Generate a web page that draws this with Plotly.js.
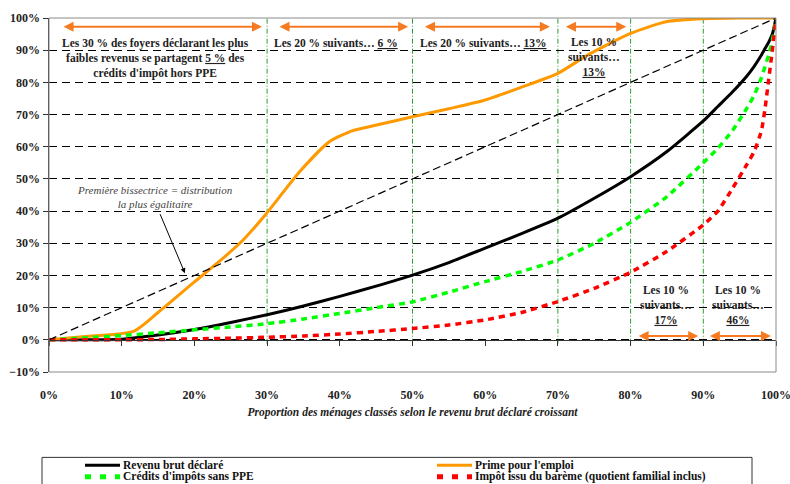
<!DOCTYPE html>
<html><head><meta charset="utf-8">
<script src="https://cdn.plot.ly/plotly-3.0.1.min.js"></script>
<style>html,body{margin:0;padding:0;background:#fff}</style>
</head><body>
<div id="chart" style="width:790px;height:484px"></div>
<script>
// Population share (x) common grid
const popShare = [0,0.05,0.1,0.15,0.2,0.25,0.3,0.35,0.4,0.45,0.5,0.55,0.6,0.65,0.7,0.75,0.8,0.85,0.9,0.92,0.94,0.96,0.97,0.98,0.985,0.99,0.995,1];
const revenuBrut = [0,0,0.002,0.015,0.032,0.054,0.078,0.105,0.135,0.167,0.201,0.24,0.285,0.33,0.378,0.44,0.507,0.585,0.68,0.725,0.77,0.82,0.85,0.885,0.905,0.925,0.95,1];
const creditsSansPPE = [0,0.006,0.013,0.022,0.031,0.04,0.05,0.065,0.082,0.1,0.118,0.148,0.181,0.212,0.248,0.30,0.365,0.445,0.55,0.595,0.65,0.72,0.76,0.815,0.85,0.885,0.93,1];
const impotBareme = [0,0,0,0.001,0.003,0.005,0.008,0.012,0.018,0.026,0.035,0.046,0.062,0.085,0.119,0.16,0.21,0.275,0.357,0.40,0.47,0.545,0.585,0.65,0.72,0.81,0.90,1];
// Prime pour l'emploi (own grid)
const ppeShare = [0,0.05,0.116,0.15,0.2,0.235,0.267,0.3,0.345,0.386,0.418,0.446,0.5,0.55,0.6,0.65,0.7,0.741,0.8,0.85,0.9,0.95,1];
const ppeCum   = [0,0.01,0.026,0.085,0.18,0.245,0.31,0.395,0.523,0.616,0.65,0.665,0.693,0.718,0.745,0.785,0.828,0.885,0.952,0.989,0.998,1,1];
// Equality line
const diagX = [0,1];
const diagY = [0,1];

const seriesNames = ["Revenu brut déclaré","Prime pour l'emploi","Crédits d'impôts sans PPE","Impôt issu du barème (quotient familial inclus)"];
const seriesColors = ['#000000','#FF9900','#00FF00','#FF0000'];

// Separators (decile boundaries)
const separators = [0.3,0.5,0.7,0.8,0.9];
const topArrows = [[0.018,0.293],[0.315,0.494],[0.515,0.689],[0.709,0.794]];
const topArrowY = 0.973;
const bottomArrows = [[0.809,0.893],[0.907,0.993]];
const bottomArrowY = 0.012;

const U = s => '<span style="text-decoration:underline">'+s+'</span>';
const labels = [
  {x:0.146, y:0.873, text:'Les 30 % des foyers déclarant les plus<br>faibles revenus se partagent '+U('5 %')+' des<br>crédits d\'impôt hors PPE'},
  {x:0.395, y:0.921, text:'Les 20 % suivants… '+U('6 %')},
  {x:0.598, y:0.921, text:'Les 20 % suivants… '+U('13%')},
  {x:0.75,  y:0.879, text:'Les 10 %<br>suivants…<br>'+U('13%')},
  {x:0.849, y:0.109, text:'Les 10 %<br>suivants…<br>'+U('17%')},
  {x:0.948, y:0.109, text:'Les 10 %<br>suivants…<br>'+U('46%')}
];

const FONT = "Liberation Serif";
const tickVals = [0,0.1,0.2,0.3,0.4,0.5,0.6,0.7,0.8,0.9,1];

const M = {l:49, r:14, t:18, b:111.5};
const W = 790, H = 484;
const pw = W - M.l - M.r, ph = H - M.t - M.b;
const px = v => (v - M.l) / pw;          // pixel -> paper x
const py = v => (H - M.b - v) / ph;      // pixel -> paper y

const traces = [
  {x:popShare, y:revenuBrut, name:seriesNames[0], mode:'lines', line:{color:seriesColors[0], width:3, shape:'spline', smoothing:0.5}},
  {x:ppeShare, y:ppeCum, name:seriesNames[1], mode:'lines', line:{color:seriesColors[1], width:3, shape:'spline', smoothing:0.6}},
  {x:popShare, y:creditsSansPPE, name:seriesNames[2], mode:'lines', line:{color:seriesColors[2], width:3.5, dash:'6px,5px', shape:'spline', smoothing:0.5}},
  {x:popShare, y:impotBareme, name:seriesNames[3], mode:'lines', line:{color:seriesColors[3], width:3.5, dash:'6px,5px', shape:'spline', smoothing:0.5}},
  {x:diagX, y:diagY, xaxis:'x2', mode:'lines', showlegend:false, hoverinfo:'skip', line:{color:'#000', width:1.2, dash:'8px,4px'}}
];

const shapes = [];
separators.forEach(s => shapes.push({type:'line', xref:'x', yref:'y', x0:s, x1:s, y0:-0.012, y1:1, line:{color:'#2E9E2E', width:1, dash:'5px,2px,1px,2px'}, layer:'below'}));
shapes.push({type:'rect', xref:'paper', yref:'paper', x0:0, x1:1, y0:0, y1:1, line:{color:'#8a8a8a', width:1}});
// legend box
shapes.push({type:'rect', xref:'paper', yref:'paper', x0:px(42), x1:px(752), y0:py(458), y1:py(500), line:{color:'#333', width:1}, fillcolor:'rgba(0,0,0,0)'});

const annotations = [];
// legend entries (manual)
const legPos = [[85,466],[437,466],[85,477.5],[437,477.5]];
seriesNames.forEach((n,i) => {
  const [lx, ly] = legPos[i];
  const dashed = i >= 2;
  shapes.push({type:'line', xref:'paper', yref:'paper', x0:px(lx), x1:px(lx+35), y0:py(ly), y1:py(ly),
               line:{color:seriesColors[i], width:dashed?5:3, dash:dashed?'6px,9px':'solid'}});
  annotations.push({x:px(lx+36), y:py(ly), xref:'paper', yref:'paper', xanchor:'left', yanchor:'middle', text:'<b>'+n+'</b>', showarrow:false,
                    font:{family:FONT, size:11.5, color:'#111'}});
});

const addArrow = (a, yv) => annotations.push({x:a[1], y:yv, ax:a[0], ay:yv, xref:'x', yref:'y', axref:'x', ayref:'y', text:'', showarrow:true, arrowside:'end+start', arrowhead:2, arrowsize:1, arrowwidth:2, arrowcolor:'#F57A20'});
topArrows.forEach(a => addArrow(a, topArrowY));
bottomArrows.forEach(a => addArrow(a, bottomArrowY));
labels.forEach(l => annotations.push({x:l.x, y:l.y, xref:'x', yref:'y', text:'<b>'+l.text+'</b>', showarrow:false, align:'center', font:{family:FONT, size:11.5, color:'#222'}}));
annotations.push({x:0.146, y:0.444, xref:'x', yref:'y', text:'<i>Première bissectrice = distribution<br>la plus égalitaire</i>', showarrow:false, align:'center', font:{family:FONT, size:11, color:'#444'}});
annotations.push({x:0.187, y:0.207, ax:0.152, ay:0.395, xref:'x', yref:'y', axref:'x', ayref:'y', text:'', showarrow:true, arrowhead:2, arrowsize:1, arrowwidth:1, arrowcolor:'#000'});

const layout = {
  width:W, height:H,
  margin:M,
  paper_bgcolor:'#fff', plot_bgcolor:'#fff',
  font:{family:FONT, size:12, color:'#222'},
  showlegend:false,
  xaxis:{range:[0,1], tickvals:tickVals, tickformat:'.0%', showgrid:false, zeroline:false, showline:false, automargin:false, ticklabeloverflow:'allow',
         ticks:'outside', ticklen:12, tickcolor:'rgba(0,0,0,0)', tickfont:{family:FONT, size:12, weight:'bold', color:'#222'},
         title:{text:'<b><i>Proportion des ménages classés selon le revenu brut déclaré croissant</i></b>', font:{family:FONT, size:11.5, color:'#222'}, standoff:6}},
  xaxis2:{range:[0,1], overlaying:'x', anchor:'free', position:0.1/1.1, side:'bottom', tickvals:tickVals, showticklabels:false,
          ticks:'outside', ticklen:5, tickcolor:'#333', showline:true, linecolor:'#333', linewidth:1.5, showgrid:false, zeroline:false},
  yaxis:{range:[-0.1,1], tickvals:[-0.1,0,0.1,0.2,0.3,0.4,0.5,0.6,0.7,0.8,0.9,1], tickformat:'.0%', ticks:'outside', ticklen:5, tickcolor:'#333', automargin:false,
         showline:true, linecolor:'#333', linewidth:1.5, showgrid:true, gridcolor:'#000', gridwidth:1, griddash:'8px,5px', zeroline:false,
         tickfont:{family:FONT, size:12, weight:'bold', color:'#222'}},
  shapes:shapes,
  annotations:annotations
};

Plotly.newPlot('chart', traces, layout, {displayModeBar:false, staticPlot:true});
</script>
</body></html>
